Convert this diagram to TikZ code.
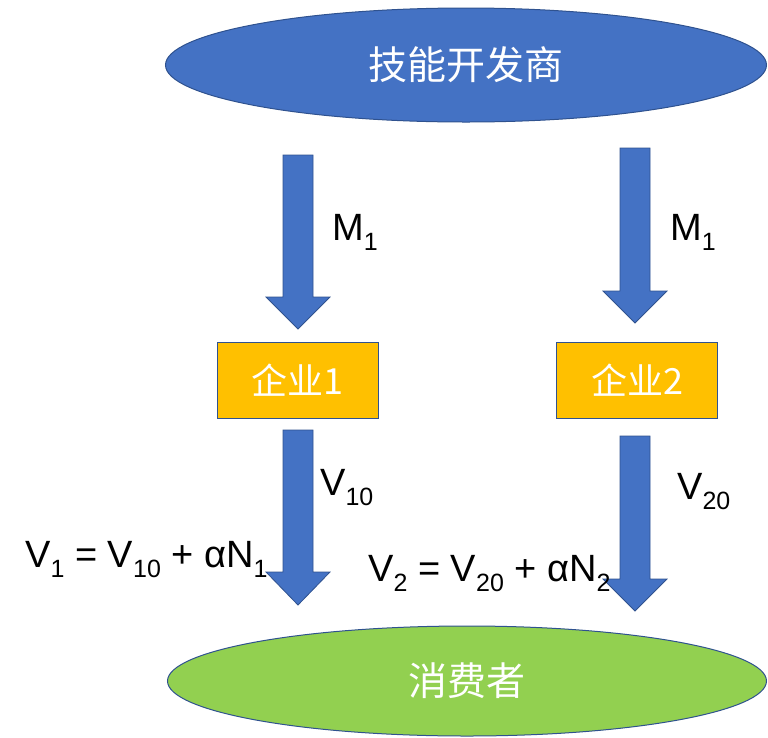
\documentclass[tikz,border=0pt]{standalone}
\usepackage{fontspec}
\setmainfont{Liberation Sans}
\newfontfamily\cjk{Noto Sans CJK SC}
\usetikzlibrary{shapes.geometric}
\definecolor{blueF}{HTML}{4472C4}
\definecolor{blueD}{HTML}{2F528F}
\definecolor{orangeF}{HTML}{FFC000}
\definecolor{greenF}{HTML}{92D050}
\newcommand\lsub[1]{\raisebox{-0.28em}{\fontsize{25}{25}\selectfont #1}}
\newcommand\blockarrow[4]{%
  \fill[blueF,draw=blueD,line width=0.8pt] (#1-15,#2) -- (#1+15,#2) -- (#1+15,#3) -- (#1+32,#3) -- (#1,#4) -- (#1-32,#3) -- (#1-15,#3) -- cycle;}
\tikzset{
  oval/.style={ellipse,draw=blueD,line width=1pt,inner sep=0pt,text=white,font=\cjk\fontsize{39}{39}\selectfont},
  firm/.style={rectangle,draw=blueD,line width=1pt,fill=orangeF,minimum width=161pt,minimum height=76pt,inner sep=0pt,text=white,font=\cjk\fontsize{36}{36}\selectfont},
  lbl/.style={anchor=base west,inner sep=0pt,font=\fontsize{38}{38}\selectfont}
}
\begin{document}
\begin{tikzpicture}[x=1pt,y=-1pt]
\useasboundingbox (0,0) rectangle (768,737);
\node[oval,fill=blueF,minimum width=601pt,minimum height=114pt] (dev) at (466,65) {技能开发商};
\node[oval,fill=greenF,minimum width=599pt,minimum height=110pt] (cons) at (467,681) {消费者};
\node[firm] (f1) at (297.5,380) {企业1};
\node[firm] (f2) at (637,380) {企业2};
\blockarrow{298}{155}{297}{329}
\blockarrow{635}{148}{291}{323}
\blockarrow{298}{430}{572}{605}
\blockarrow{635}{436}{579}{611}
\node[lbl] (m1) at (332,240) {M\lsub{1}};
\node[lbl] (m2) at (670,240) {M\lsub{1}};
\node[lbl] (v10) at (320,495) {V\lsub{10}};
\node[lbl] (v20) at (677,499) {V\lsub{20}};
\node[lbl] (e1) at (25,567) {V\lsub{1} = V\lsub{10} + αN\lsub{1}};
\node[lbl] (e2) at (368,581) {V\lsub{2} = V\lsub{20} + αN\lsub{2}};
\end{tikzpicture}
\end{document}
